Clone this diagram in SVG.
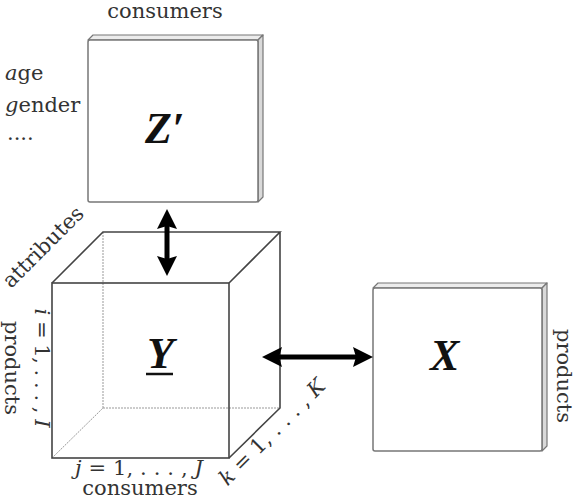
<svg xmlns="http://www.w3.org/2000/svg" width="576" height="497" viewBox="0 0 576 497">
<style>
  .lbl { font-family: "DejaVu Serif", "Liberation Serif", serif; font-size: 21px; fill: #333; }
  .it { font-style: italic; }
  .big { font-family: "Liberation Serif", "DejaVu Serif", serif; font-size: 44px; font-weight: bold; font-style: italic; fill: #111; }
  .face { fill: #fff; stroke: #777; stroke-width: 1.5; }
  .top { fill: #ececec; stroke: #777; stroke-width: 1.2; stroke-linejoin: round; }
  .side { fill: #d9d9d9; stroke: #777; stroke-width: 1.2; stroke-linejoin: round; }
  .edge { fill: none; stroke: #444; stroke-width: 1.6; }
  .hidden { fill: none; stroke: #999; stroke-width: 1; stroke-dasharray: 2 1; }
  .arrow { stroke: #000; stroke-width: 5; fill: none; marker-start: url(#head); marker-end: url(#head); }
</style>
<defs>
  <marker id="head" markerUnits="userSpaceOnUse" viewBox="0 0 20 20" refX="14" refY="10" markerWidth="20" markerHeight="20" orient="auto-start-reverse">
    <path d="M0,0 L20,10 L0,20 L3,10 Z" fill="#000"/>
  </marker>
</defs>
<rect width="576" height="497" fill="#fff"/>

<g id="Z">
  <polygon class="top" points="88,40 93,35 263,35 258,40"/>
  <polygon class="side" points="258,40 263,35 263,197 258,202"/>
  <rect class="face" x="88" y="40" width="170" height="162" rx="2"/>
  <text class="big" x="145" y="143">Z′</text>
  <text class="lbl" x="165" y="18" text-anchor="middle">consumers</text>
  <text class="lbl" x="5" y="80"><tspan class="it">a</tspan>ge</text>
  <text class="lbl" x="5" y="112"><tspan class="it">g</tspan>ender</text>
  <text class="lbl" x="7" y="140">....</text>
</g>

<g id="Y">
  <line class="hidden" x1="103" y1="232" x2="103" y2="408"/>
  <line class="hidden" x1="103" y1="408" x2="280" y2="408"/>
  <line class="hidden" x1="52" y1="458" x2="103" y2="408"/>
  <path class="edge" d="M52,283 L103,232 L280,232 L229,283 M280,232 L280,408 L229,458"/>
  <rect class="edge" x="52" y="283" width="177" height="175"/>
  <text class="big" x="147" y="368" font-size="42">Y</text>
  <line x1="146" y1="374" x2="173" y2="374" stroke="#111" stroke-width="2.5"/>
  <text class="lbl" transform="translate(48,252) rotate(-45)" text-anchor="middle">attributes</text>
  <text class="lbl" transform="translate(5,368) rotate(90)" text-anchor="middle">products</text>
  <text class="lbl" transform="translate(35,368) rotate(90)" text-anchor="middle" textLength="119" lengthAdjust="spacing"><tspan class="it">i</tspan> = 1, . . . , <tspan class="it">I</tspan></text>
  <text class="lbl" x="139" y="475" text-anchor="middle" textLength="128" lengthAdjust="spacing"><tspan class="it">j</tspan> = 1, . . . , <tspan class="it">J</tspan></text>
  <text class="lbl" x="140" y="495" text-anchor="middle" font-size="20">consumers</text>
  <text class="lbl" transform="translate(277,437) rotate(-45)" text-anchor="middle" textLength="140" lengthAdjust="spacing"><tspan class="it">k</tspan> = 1, . . . , <tspan class="it">K</tspan></text>
</g>

<g id="X">
  <polygon class="top" points="373,288 378,283 547,283 542,288"/>
  <polygon class="side" points="542,288 547,283 547,446 542,451"/>
  <rect class="face" x="373" y="288" width="169" height="163" rx="2"/>
  <text class="big" x="430" y="370">X</text>
  <text class="lbl" transform="translate(557,376) rotate(90)" text-anchor="middle">products</text>
</g>

<g id="connectors">
  <line class="arrow" x1="167" y1="215" x2="167" y2="270"/>
  <line class="arrow" x1="268" y1="357" x2="367" y2="357"/>
</g>
</svg>
